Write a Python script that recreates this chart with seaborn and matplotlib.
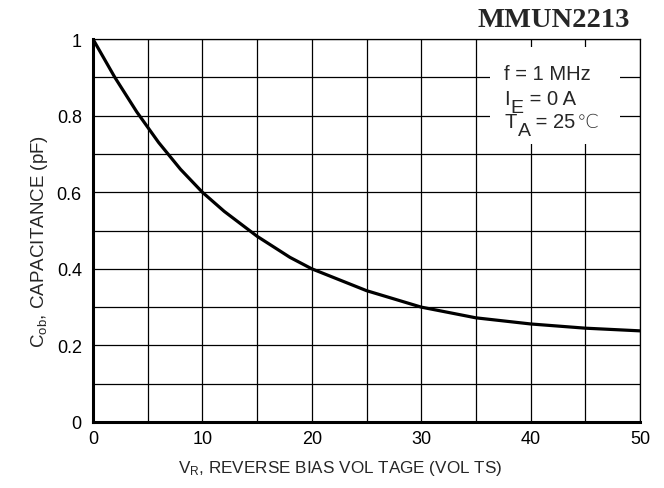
import numpy as np
import pandas as pd
import matplotlib
matplotlib.use("Agg")
import matplotlib.pyplot as plt
import seaborn as sns
from matplotlib.ticker import MultipleLocator
from matplotlib.patches import Rectangle

# ---- data ----
vr_volts = [0, 1, 2, 3, 4, 6, 8, 10, 12, 15, 18, 20, 25, 30, 35, 40, 45, 50]
cob_pf = [1.0, 0.95, 0.90, 0.855, 0.81, 0.73, 0.66, 0.60, 0.55, 0.485,
          0.43, 0.40, 0.343, 0.30, 0.272, 0.256, 0.245, 0.238]
x_ticks = [0, 10, 20, 30, 40, 50]
y_ticks = [0, 0.2, 0.4, 0.6, 0.8, 1]
y_tick_labels = ["0", "0.2", "0.4", "0.6", "0.8", "1"]

# test conditions: (main, subscript, rest)
cond_lines = [("f = 1 MHz", "", ""),
              ("I", "E", " = 0 A"),
              ("T", "A", " = 25")]

df = pd.DataFrame({"vr": vr_volts, "cob": cob_pf})

sns.set_theme(style="white")
plt.rcParams["font.family"] = ["Liberation Sans", "DejaVu Sans"]
plt.rcParams["mathtext.default"] = "regular"

fig = plt.figure(figsize=(6.64, 4.89), dpi=100)
ax = fig.add_axes([0.140, 0.135, 0.824, 0.783])

sns.lineplot(data=df, x="vr", y="cob", color="black", linewidth=2.3, ax=ax, zorder=5)

ax.set_xlim(0, 50)
ax.set_ylim(0, 1)
ax.set_xticks(x_ticks)
ax.set_yticks(y_ticks)
ax.set_yticklabels(y_tick_labels)
ax.xaxis.set_minor_locator(MultipleLocator(5))
ax.yaxis.set_minor_locator(MultipleLocator(0.1))
ax.grid(which="both", color="black", linewidth=0.9)
ax.tick_params(which="both", length=0, labelsize=13, colors="black")
ax.tick_params(axis="x", pad=6)
ax.tick_params(axis="y", pad=8)

for side in ["top", "right"]:
    ax.spines[side].set_linewidth(0.9)
    ax.spines[side].set_color("black")
for side in ["left", "bottom"]:
    ax.spines[side].set_linewidth(2.2)
    ax.spines[side].set_color("black")
    ax.spines[side].set_zorder(6)

ax.set_xlabel("$V_R$, REVERSE BIAS VOL TAGE (VOL TS)", fontsize=12.3)
ax.set_ylabel("$C_{ob}$, CAPACITANCE (pF)", fontsize=13.5)
ax.xaxis.set_label_coords(0.452, -0.095)
ax.yaxis.set_label_coords(-0.078, 0.475)

# white patch behind the conditions
ax.add_patch(Rectangle((36.3, 0.727), 11.9, 0.252, facecolor="white",
                       edgecolor="none", zorder=4))

baselines = [0.896, 0.830, 0.770]
for (main, sub, rest), yb in zip(cond_lines, baselines):
    t = ax.text(37.6, yb, main, fontsize=14.5, va="baseline", ha="left", zorder=7)
    if sub:
        s = ax.annotate(sub, xy=(1, yb), xycoords=(t, "data"), xytext=(0.5, -5.5),
                        textcoords="offset points", fontsize=14,
                        va="baseline", ha="left", zorder=7)
        r = ax.annotate(rest, xy=(1, yb), xycoords=(s, "data"), xytext=(0, 0),
                        textcoords="offset points", fontsize=14.5,
                        va="baseline", ha="left", zorder=7)
        if main == "T":
            ax.annotate("\u2103", xy=(1, yb), xycoords=(r, "data"), xytext=(1, 0),
                        textcoords="offset points", fontsize=14,
                        family="DejaVu Sans", fontweight="light", color="#333333",
                        va="baseline", ha="left", zorder=7)

fig.text(0.949, 0.959, "MMUN2213", ha="right", va="center", fontsize=20.5,
         fontweight="bold", family="Liberation Serif")

fig.savefig("out.png", dpi=100)
